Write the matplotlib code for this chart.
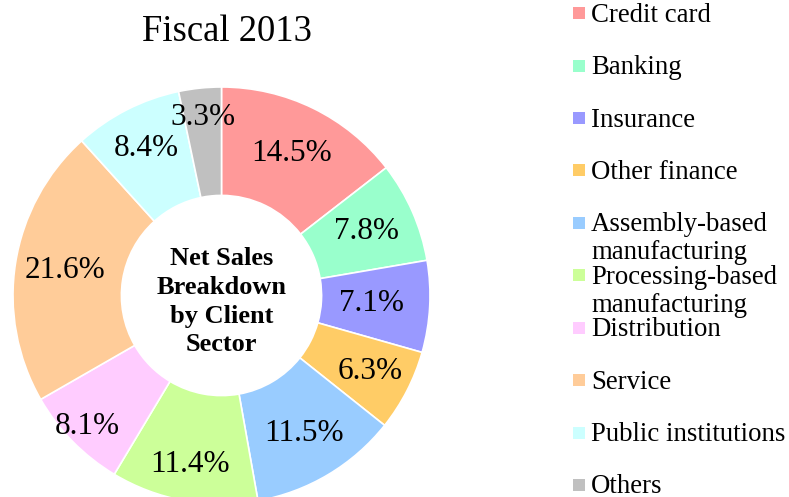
import matplotlib
matplotlib.use("Agg")
import numpy as np
import matplotlib.pyplot as plt
from matplotlib.patches import Rectangle

plt.rcParams["font.family"] = ["Liberation Serif", "DejaVu Serif"]

sectors = [
    "Credit card",
    "Banking",
    "Insurance",
    "Other finance",
    "Assembly-based\nmanufacturing",
    "Processing-based\nmanufacturing",
    "Distribution",
    "Service",
    "Public institutions",
    "Others",
]
shares = [14.5, 7.8, 7.1, 6.3, 11.5, 11.4, 8.1, 21.6, 8.4, 3.3]
colors = [
    "#FF9999", "#99FFCC", "#9999FF", "#FFCC66", "#99CCFF",
    "#CCFF99", "#FFCCFF", "#FFCC99", "#CCFFFF", "#C0C0C0",
]
# radial position of each percentage label, as a fraction of the outer radius
label_dist = [0.76, 0.76, 0.72, 0.80, 0.77, 0.825, 0.90, 0.76, 0.79, 0.86]

W, H = 789, 497


def fx(x):
    return x / W


def fy(y):
    return 1 - y / H


fig = plt.figure(figsize=(W / 100, H / 100), dpi=100)

# donut: centre (221.5, 295.5) px, radius 208.5 px
cx, cy, r = 221.5, 295.5, 208.5
ax = fig.add_axes([fx(cx - r), fy(cy + r), 2 * r / W, 2 * r / H])
wedges, _ = ax.pie(
    shares,
    colors=colors,
    startangle=90,
    counterclock=False,
    radius=1.0,
    wedgeprops=dict(width=0.52, edgecolor="white", linewidth=1.2),
)
for w, v, d in zip(wedges, shares, label_dist):
    mid = np.deg2rad((w.theta1 + w.theta2) / 2)
    ax.text(d * np.cos(mid), d * np.sin(mid), f"{v:.1f}%", fontsize=22.5,
            ha="center", va="center")
ax.set_xlim(-1, 1)
ax.set_ylim(-1, 1)
ax.set_aspect("equal")
ax.axis("off")

fig.text(fx(226.5), fy(32), "Fiscal 2013", fontsize=26.4,
         ha="center", va="center")
ax.text(0, -0.03, "Net Sales\nBreakdown\nby Client\nSector", fontsize=19,
        fontweight="bold", ha="center", va="center", linespacing=1.32)

# legend drawn by hand so that every row keeps the same pitch
row0, pitch = 13.3, 52.4
for i, (name, col) in enumerate(zip(sectors, colors)):
    yc = row0 + i * pitch
    fig.patches.append(Rectangle((fx(573), fy(yc + 6)), 12 / W, 12 / H,
                                 transform=fig.transFigure, facecolor=col,
                                 edgecolor="none"))
    for j, line in enumerate(name.split("\n")):
        fig.text(fx(591), fy(yc + 8.5 + j * 28), line, fontsize=19.3,
                 ha="left", va="baseline")

fig.savefig("out.png", dpi=100)
